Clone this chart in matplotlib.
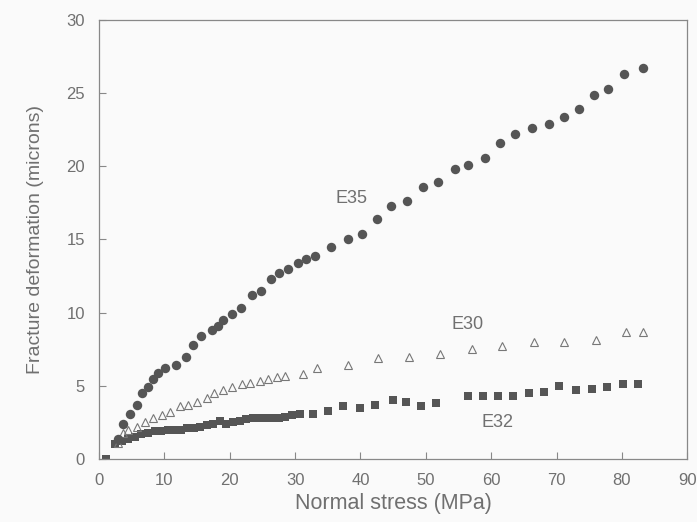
import numpy as np
import matplotlib
matplotlib.use('Agg')
import matplotlib.pyplot as plt

plt.rcParams['font.family'] = ['Liberation Sans', 'DejaVu Sans']

# E35 - filled circles
e35_x = [2.9, 3.7, 4.7, 5.8, 6.6, 7.5, 8.3, 9.0, 10.1, 11.8, 13.3, 14.4, 15.6,
         17.3, 18.2, 19.0, 20.4, 21.7, 23.4, 24.8, 26.3, 27.6, 28.9, 30.5,
         31.7, 33.1, 35.5, 38.1, 40.3, 42.6, 44.7, 47.2, 49.5, 51.8, 54.4,
         56.5, 59.0, 61.4, 63.7, 66.2, 68.8, 71.2, 73.4, 75.8, 77.9, 80.4, 83.2]
e35_y = [1.4, 2.4, 3.1, 3.7, 4.5, 4.9, 5.5, 5.9, 6.2, 6.4, 7.0, 7.8, 8.4,
         8.8, 9.1, 9.5, 9.9, 10.3, 11.2, 11.5, 12.3, 12.7, 13.0, 13.4,
         13.7, 13.9, 14.5, 15.0, 15.4, 16.4, 17.3, 17.6, 18.6, 18.9, 19.8,
         20.1, 20.6, 21.6, 22.2, 22.6, 22.9, 23.4, 23.9, 24.9, 25.3, 26.3, 26.7]

# E30 - open triangles
e30_x = [2.9, 3.7, 4.4, 5.8, 7.0, 8.3, 9.6, 10.9, 12.4, 13.6, 15.0, 16.5, 17.6,
         19.0, 20.4, 21.9, 23.1, 24.7, 25.9, 27.3, 28.5, 31.2, 33.4, 38.1,
         42.7, 47.5, 52.1, 57.0, 61.6, 66.5, 71.1, 76.1, 80.6, 83.3]
e30_y = [1.1, 1.8, 2.0, 2.2, 2.5, 2.8, 3.0, 3.2, 3.6, 3.7, 3.9, 4.2, 4.5,
         4.7, 4.9, 5.1, 5.2, 5.3, 5.5, 5.6, 5.7, 5.8, 6.2, 6.4,
         6.9, 7.0, 7.2, 7.5, 7.7, 8.0, 8.0, 8.1, 8.7, 8.7]

# E32 - filled squares
e32_x = [1.1, 2.5, 3.5, 4.5, 5.5, 6.5, 7.5, 8.5, 9.5, 10.5, 11.5, 12.5, 13.5,
         14.5, 15.5, 16.5, 17.5, 18.5, 19.5, 20.5, 21.5, 22.5, 23.5, 24.5,
         25.5, 26.5, 27.5, 28.5, 29.5, 30.8, 32.8, 35.1, 37.4, 40.0, 42.3,
         45.0, 46.9, 49.3, 51.5, 56.5, 58.7, 61.1, 63.4, 65.8, 68.1, 70.4,
         73.0, 75.5, 77.8, 80.1, 82.5]
e32_y = [0.0, 1.0, 1.2, 1.4, 1.5, 1.7, 1.8, 1.9, 1.9, 2.0, 2.0, 2.0, 2.1,
         2.1, 2.2, 2.3, 2.4, 2.6, 2.4, 2.5, 2.6, 2.7, 2.8, 2.8,
         2.8, 2.8, 2.8, 2.9, 3.0, 3.1, 3.1, 3.3, 3.6, 3.5, 3.7,
         4.0, 3.9, 3.6, 3.8, 4.3, 4.3, 4.3, 4.3, 4.5, 4.6, 5.0,
         4.7, 4.8, 4.9, 5.1, 5.1]

labels = ['E35', 'E30', 'E32']
label_pos = [(38.7, 17.8), (56.4, 9.2), (60.9, 2.5)]

x_ticks = [0, 10, 20, 30, 40, 50, 60, 70, 80, 90]
y_ticks = [0, 5, 10, 15, 20, 25, 30]

txt = '#707070'
mk = '#555555'
fig = plt.figure(figsize=(6.97, 5.22), dpi=100)
fig.patch.set_facecolor('#fafafa')
ax = fig.add_axes([0.142, 0.1207, 0.844, 0.841])
ax.set_facecolor('#fafafa')

ax.plot(e32_x, e32_y, 's', color=mk, markersize=6.2, markeredgewidth=0)
ax.plot(e30_x, e30_y, '^', markerfacecolor='none', markeredgecolor='#777777',
        markersize=6, markeredgewidth=0.8)
ax.plot(e35_x, e35_y, 'o', color=mk, markersize=6.8, markeredgewidth=0)

for lab, (lx, ly) in zip(labels, label_pos):
    ax.text(lx, ly, lab, color=txt, fontsize=13, ha='center', va='center')

ax.set_xlim(0, 90)
ax.set_ylim(0, 30)
ax.set_xticks(x_ticks)
ax.set_yticks(y_ticks)
ax.tick_params(direction='in', length=5, width=0.8, color='#888888',
               labelcolor=txt, labelsize=12, pad=10)
for s in ax.spines.values():
    s.set_color('#888888')
    s.set_linewidth(0.9)

ax.set_xlabel('Normal stress (MPa)', color=txt, fontsize=15.5, labelpad=4)
ax.set_ylabel('Fracture deformation (microns)', color=txt, fontsize=14, labelpad=16)

fig.savefig('out.png', dpi=100, facecolor=fig.get_facecolor())
